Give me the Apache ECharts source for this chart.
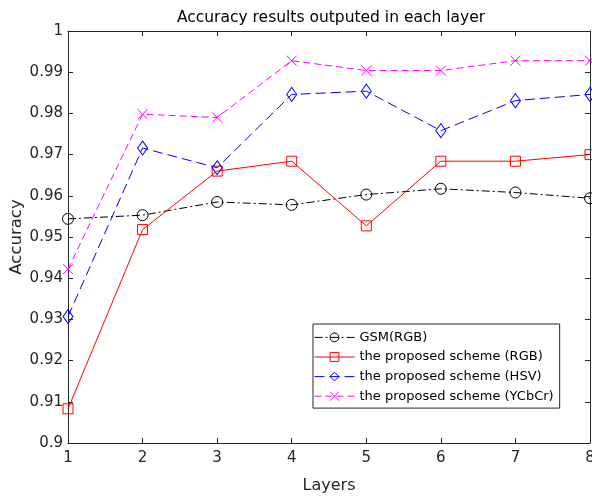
<!DOCTYPE html>
<html>
<head>
<meta charset="utf-8">
<script src="https://cdn.jsdelivr.net/npm/echarts@6/dist/echarts.min.js"></script>
<style>
  html, body { margin: 0; padding: 0; background: #fff; }
  #chart { width: 592px; height: 496px; }
</style>
</head>
<body>
<div id="chart"></div>
<script>
const layers = [1, 2, 3, 4, 5, 6, 7, 8];
const gsmRGB = [0.9544, 0.9553, 0.9585, 0.9578, 0.9603, 0.9617, 0.9608, 0.9594];
const propRGB = [0.9083, 0.9518, 0.9660, 0.9684, 0.9527, 0.9684, 0.9684, 0.9700];
const propHSV = [0.9307, 0.9716, 0.9668, 0.9846, 0.9854, 0.9758, 0.9831, 0.9846];
const propYCbCr = [0.9422, 0.9798, 0.9790, 0.9928, 0.9904, 0.9904, 0.9928, 0.9928];

const seriesNames = [
  'GSM(RGB)',
  'the proposed scheme (RGB)',
  'the proposed scheme (HSV)',
  'the proposed scheme (YCbCr)'
];

const FONT = 'DejaVu Sans';
const AXIS_COLOR = '#262626';

function pairs(ys) {
  return layers.map((x, i) => [x, ys[i]]);
}

function makeSeries(name, ys, color, dash, symbol, size) {
  return {
    name: name,
    type: 'line',
    data: pairs(ys),
    symbol: symbol,
    symbolSize: size,
    showAllSymbol: true,
    clip: false,
    lineStyle: { color: color, width: 1, type: dash },
    itemStyle: { color: 'none', borderColor: color, borderWidth: 1 },
    emphasis: { disabled: true },
    animation: false
  };
}

const boxAxis = {
  axisLine: { show: true, lineStyle: { color: AXIS_COLOR, width: 1 } },
  axisTick: { show: true, inside: true, length: 5, lineStyle: { color: AXIS_COLOR } },
  splitLine: { show: false }
};

const chart = echarts.init(document.getElementById('chart'));
chart.setOption({
  backgroundColor: '#fff',
  animation: false,
  title: {
    text: 'Accuracy results outputed in each layer',
    left: 326,
    textAlign: 'center',
    top: 5,
    textStyle: { fontFamily: FONT, fontSize: 15.5, fontWeight: 'normal', color: '#000' }
  },
  grid: { left: 68, right: 2, top: 31, bottom: 53, containLabel: false, outerBoundsMode: 'none' },
  legend: {
    orient: 'vertical',
    left: 313,
    top: 324,
    data: seriesNames,
    itemWidth: 40,
    itemHeight: 11,
    itemGap: 5.8,
    padding: [6.5, 6, 5, 1],
    backgroundColor: '#fff',
    borderColor: AXIS_COLOR,
    borderWidth: 1,
    lineStyle: { width: 1 },
    itemStyle: { borderWidth: 1 },
    textStyle: { fontFamily: FONT, fontSize: 13, color: '#000' }
  },
  xAxis: [
    Object.assign({}, boxAxis, {
      type: 'value', min: 1, max: 8, interval: 1,
      name: 'Layers', nameLocation: 'middle', nameGap: 35, nameMoveOverlap: false,
      nameTextStyle: { fontFamily: FONT, fontSize: 16, color: AXIS_COLOR },
      axisLabel: { fontFamily: FONT, fontSize: 15, color: AXIS_COLOR, margin: 8 }
    }),
    Object.assign({}, boxAxis, {
      type: 'value', min: 1, max: 8, interval: 1, position: 'top',
      axisLabel: { show: false }
    })
  ],
  yAxis: [
    Object.assign({}, boxAxis, {
      type: 'value', min: 0.9, max: 1, interval: 0.01,
      name: 'Accuracy', nameLocation: 'middle', nameGap: 43, nameMoveOverlap: false,
      nameTextStyle: { fontFamily: FONT, fontSize: 16.5, color: AXIS_COLOR },
      axisLabel: {
        fontFamily: FONT, fontSize: 15, color: AXIS_COLOR, margin: 5,
        formatter: v => String(parseFloat(v.toFixed(2)))
      }
    }),
    Object.assign({}, boxAxis, {
      type: 'value', min: 0.9, max: 1, interval: 0.01, position: 'right',
      axisLabel: { show: false }
    })
  ],
  series: [
    makeSeries(seriesNames[0], gsmRGB, '#000000', [8, 3, 2, 3], 'circle', 11),
    makeSeries(seriesNames[1], propRGB, '#ff0000', 'solid', 'rect', 10),
    makeSeries(seriesNames[2], propHSV, '#0000ff', [10, 5], 'diamond', [10, 14]),
    makeSeries(seriesNames[3], propYCbCr, '#ff00ff', [7, 4], 'path://M0,0L10,10M10,0L0,10', 10)
  ]
});
</script>
</body>
</html>
